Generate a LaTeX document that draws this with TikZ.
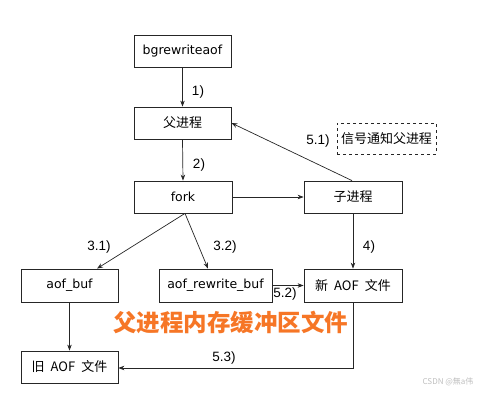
\documentclass[tikz,border=0pt]{standalone}
\usepackage{fontspec}
\setmainfont{Liberation Sans}
\newfontfamily\cjk{Noto Sans CJK SC}
\newfontfamily\boxfont{DejaVu Sans}
\usetikzlibrary{arrows.meta}
\definecolor{orangetxt}{RGB}{246,118,38}
\definecolor{wmark}{RGB}{190,190,190}
\newcommand{\gap}{\hspace{6pt}}
\begin{document}
\begin{tikzpicture}[x=1pt,y=-1pt,
  box/.style={draw=black!85,line width=0.8pt,minimum height=32pt,inner sep=1pt,font=\boxfont\fontsize{12.5}{14}\selectfont},
  cbox/.style={box,font=\cjk\fontsize{13}{15}\selectfont},
  arr/.style={draw=black!85,line width=0.7pt,-{Stealth[length=6pt,width=4.5pt]}},
  lbl/.style={font=\fontsize{13.5}{15}\selectfont,inner sep=0pt}]
\useasboundingbox (0,0) rectangle (483,394);
\node[box,minimum width=97pt] (bg) at (182.5,51) {bgrewriteaof};
\node[cbox,minimum width=97pt] (fu) at (182.5,123) {父进程};
\node[box,minimum width=98pt] (fork) at (183,197) {fork};
\node[cbox,minimum width=98pt] (zi) at (353,197) {子进程};
\node[box,minimum width=97pt,minimum height=33pt] (ab) at (69.5,285.5) {aof\_buf};
\node[box,minimum width=113pt,minimum height=33pt,inner sep=0pt] (arb) at (215.5,285.5) {aof\_rewrite\_buf};
\node[cbox,minimum width=98pt,minimum height=33pt] (new) at (353,285.5) {新\gap AOF\gap 文件};
\node[cbox,minimum width=97pt] (old) at (69.5,367) {旧\gap AOF\gap 文件};
\node[cbox,dashed,minimum width=99pt,minimum height=31pt,line width=0.7pt] (sig) at (386.5,138.5) {信号通知父进程};

\draw[arr] (bg.south) -- (fu.north);
\draw[arr] (fu.south) -- (fork.north);
\draw[arr] (fork.east) -- (zi.west);
\draw[arr] ([xshift=-1pt]zi.north) -- (fu.east);
\draw[arr] ([xshift=2pt]fork.south) -- ([xshift=27.5pt]ab.north);
\draw[arr] ([xshift=2pt]fork.south) -- ([xshift=-7.5pt]arb.north);
\draw[arr] (zi.south) -- (new.north);
\draw[arr] (arb.east) -- (new.west);
\draw[arr] (ab.south) -- (old.north);
\draw[arr] (new.south) |- ([yshift=-1pt]old.east);

\node[lbl] (l1) at (198,92) {1)};
\node[lbl] (l2) at (199,165) {2)};
\node[lbl] (l31) at (99,247) {3.1)};
\node[lbl] (l32) at (225,247) {3.2)};
\node[lbl] (l4) at (369,247) {4)};
\node[lbl] (l51) at (318,141) {5.1)};
\node[lbl] (l52) at (285,294) {5.2)};
\node[lbl] (l53) at (224,358) {5.3)};

\node[font=\cjk\bfseries\fontsize{23.5}{26}\selectfont,text=orangetxt,inner sep=0pt] (title) at (231,322) {父进程内存缓冲区文件};
\node[font=\cjk\fontsize{8}{9}\selectfont,text=wmark,inner sep=0pt] (wm) at (448,382) {CSDN @無a伟};
\end{tikzpicture}
\end{document}
